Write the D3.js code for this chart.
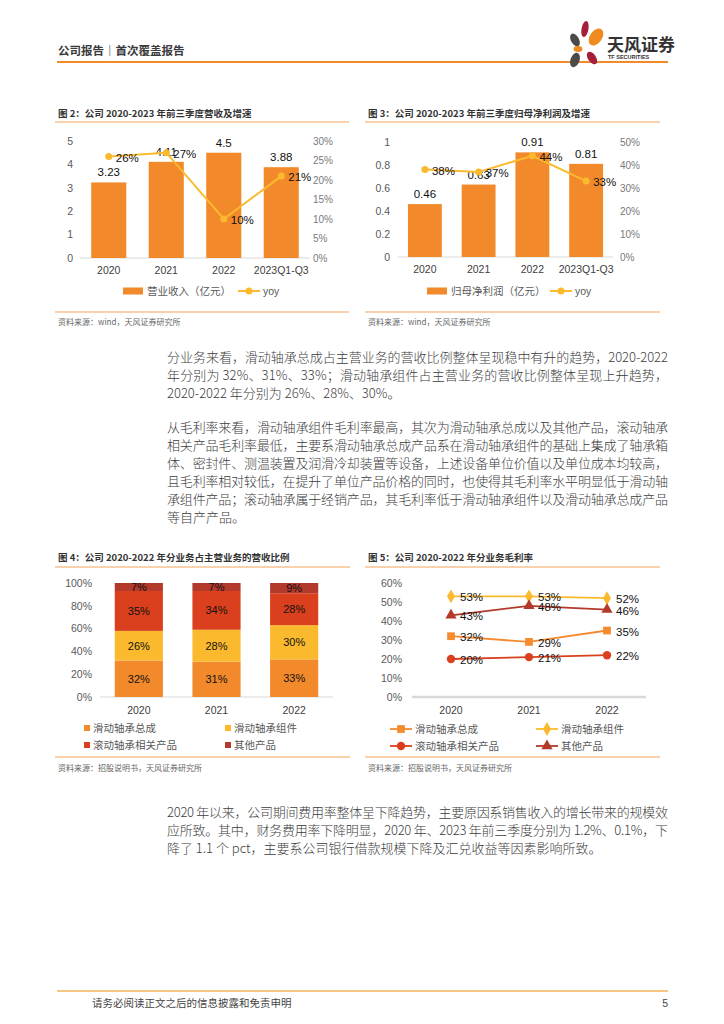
<!DOCTYPE html>
<html><head><meta charset="utf-8">
<script src="https://cdn.jsdelivr.net/npm/d3@7"></script>
<style>body{margin:0;background:#fff}svg{display:block}</style>
</head><body>
<script>
// ---------------- data ----------------
const revCats = ["2020","2021","2022","2023Q1-Q3"];
const revValues = [3.23,4.11,4.5,3.88];
const revYoy = [0.26,0.27,0.10,0.21];
const revTicksL = [0,1,2,3,4,5];
const revTicksR = [0,0.05,0.10,0.15,0.20,0.25,0.30];

const npCats = ["2020","2021","2022","2023Q1-Q3"];
const npValues = [0.46,0.63,0.91,0.81];
const npYoy = [0.38,0.37,0.44,0.33];
const npTicksL = [0,0.2,0.4,0.6,0.8,1];
const npTicksR = [0,0.1,0.2,0.3,0.4,0.5];

const segYears = ["2020","2021","2022"];
const segNames = ["滑动轴承总成","滑动轴承组件","滚动轴承相关产品","其他产品"];
const shareAssembly = [0.32,0.31,0.33];
const shareComponent = [0.26,0.28,0.30];
const shareRolling = [0.35,0.34,0.28];
const shareOther = [0.07,0.07,0.09];
const shareTicks = [0,0.2,0.4,0.6,0.8,1];

const gmAssembly = [0.32,0.29,0.35];
const gmComponent = [0.53,0.53,0.52];
const gmRolling = [0.20,0.21,0.22];
const gmOther = [0.43,0.48,0.46];
const gmTicks = [0,0.1,0.2,0.3,0.4,0.5,0.6];

// ---------------- style ----------------
const CJK = "'Noto Sans CJK SC','Liberation Sans',sans-serif";
const LAT = "'Liberation Sans','Noto Sans CJK SC',sans-serif";
const C_OR = "#F28A2B", C_YE = "#FBBA2E", C_RE = "#DA401E", C_DK = "#B3392B";
const GRAY_T = "#595959", LINE_OR = "#F4A35C";

const svg = d3.select("body").append("svg").attr("width",724).attr("height",1024)
  .style("font-family", CJK);

function txt(x,y,s,o={}){
  const t = svg.append("text").attr("x",x).attr("y",y).text(s)
    .attr("font-size",o.size||10.5).attr("fill",o.fill||"#333")
    .attr("font-family",o.font||CJK);
  if(o.bold) t.attr("font-weight","bold");
  if(o.weight) t.attr("font-weight",o.weight);
  if(o.anchor) t.attr("text-anchor",o.anchor);
  if(o.len) t.attr("textLength",o.len).attr("lengthAdjust","spacing");
  return t;
}
function hline(x1,x2,y,c,w){
  svg.append("line").attr("x1",x1).attr("x2",x2).attr("y1",y).attr("y2",y)
    .attr("stroke",c).attr("stroke-width",w);
}

// ---------------- header ----------------
txt(58,55,"公司报告｜首次覆盖报告",{size:11.5,bold:true,fill:"#3a3a3a"});
hline(57,668,62,C_OR,2);
const logo = svg.append("g");
[[575,40,4,7,-30,"#4a4a4a"],[585,29,3.5,8,10,"#A51E3A"],[596,37,6,9.5,35,"#EE8A1E"],
 [578,49,4.5,3,0,"#EE8A1E"],[575,60,4.5,7.5,20,"#4a4a4a"],[592,58,4,7,-35,"#A51E3A"]]
 .forEach(p=>logo.append("ellipse").attr("cx",p[0]).attr("cy",p[1]).attr("rx",p[2]).attr("ry",p[3])
   .attr("transform",`rotate(${p[4]},${p[0]},${p[1]})`).attr("fill",p[5]));
txt(607,51,"天风证券",{size:17,bold:true,fill:"#333"});
txt(608,59,"TF SECURITIES",{size:5.5,bold:true,fill:"#333",font:LAT});

// ---------------- bar + line charts ----------------
function barLine(c){
  txt(c.tx,117,c.title,{size:9.5,bold:true,fill:"#333"});
  hline(c.lx1,c.lx2,122,LINE_OR,1.2);
  hline(c.lx1,c.lx2,312,LINE_OR,1.2);
  txt(c.tx,325,"资料来源：wind，天风证券研究所",{size:8,fill:"#666"});
  const x = d3.scaleBand().domain(c.cats).range([c.x0,c.x1]).paddingInner(c.pad).paddingOuter(c.pad/2);
  const yL = d3.scaleLinear().domain([0,c.ticksL[c.ticksL.length-1]]).range([c.yb,c.yt]);
  const yR = d3.scaleLinear().domain([0,c.ticksR[c.ticksR.length-1]]).range([c.yb,c.yt]);
  const g = svg.append("g");
  const aL = g.append("g").attr("transform",`translate(${c.axL},0)`)
    .call(d3.axisLeft(yL).tickValues(c.ticksL).tickSize(0).tickPadding(0).tickFormat(c.fmtL));
  aL.select(".domain").remove();
  aL.selectAll("text").attr("font-size",10.5).attr("fill",GRAY_T).attr("font-family",LAT);
  const aR = g.append("g").attr("transform",`translate(${c.axR},0)`)
    .call(d3.axisRight(yR).tickValues(c.ticksR).tickSize(0).tickPadding(0).tickFormat(d3.format(".0%")));
  aR.select(".domain").remove();
  aR.selectAll("text").attr("font-size",10).attr("fill","#7a7a7a").attr("font-family",LAT);
  g.append("line").attr("x1",c.x0).attr("x2",c.x1).attr("y1",c.yb).attr("y2",c.yb).attr("stroke","#D9D9D9");
  g.selectAll(".bar").data(c.vals).join("rect")
    .attr("x",(d,i)=>x(c.cats[i])).attr("width",x.bandwidth())
    .attr("y",d=>yL(d)).attr("height",d=>c.yb-yL(d)).attr("fill",C_OR);
  g.selectAll(".bl").data(c.vals).join("text")
    .attr("x",(d,i)=>x(c.cats[i])+x.bandwidth()/2).attr("y",d=>yL(d)-6)
    .attr("text-anchor","middle").attr("font-size",11.5).attr("fill","#111").attr("font-family",LAT)
    .text(d=>String(d));
  const cx = (d,i)=>x(c.cats[i])+x.bandwidth()/2;
  g.append("path").datum(c.yoy).attr("fill","none").attr("stroke",C_YE).attr("stroke-width",2)
    .attr("d",d3.line().x(cx).y(d=>yR(d)));
  g.selectAll(".pt").data(c.yoy).join("circle").attr("cx",cx).attr("cy",d=>yR(d)).attr("r",3.5).attr("fill",C_YE);
  g.selectAll(".pl").data(c.yoy).join("text")
    .attr("x",(d,i)=>cx(d,i)+7).attr("y",d=>yR(d)+5)
    .attr("font-size",11.5).attr("fill","#111").attr("font-family",LAT)
    .text(d=>d3.format(".0%")(d));
  g.selectAll(".xl").data(c.cats).join("text")
    .attr("x",d=>x(d)+x.bandwidth()/2).attr("y",c.yb+16).attr("text-anchor","middle")
    .attr("font-size",10.5).attr("fill","#404040").attr("font-family",LAT).text(d=>d);
  g.append("rect").attr("x",c.lg1).attr("y",287.5).attr("width",20).attr("height",7).attr("fill",C_OR);
  txt(c.lg1+24,295,c.legend,{size:10.5,fill:GRAY_T});
  hline(c.lg2,c.lg2+22,291,C_YE,2);
  g.append("circle").attr("cx",c.lg2+11).attr("cy",291).attr("r",3.5).attr("fill",C_YE);
  txt(c.lg2+25,295,"yoy",{size:10.5,fill:GRAY_T,font:LAT});
}

barLine({title:"图 2：公司 2020-2023 年前三季度营收及增速",tx:58,lx1:55,lx2:349,
  cats:revCats,vals:revValues,yoy:revYoy,ticksL:revTicksL,ticksR:revTicksR,fmtL:d3.format("d"),
  x0:80,x1:310,pad:0.39,yb:258,yt:141,axL:73,axR:313,legend:"营业收入（亿元）",lg1:123,lg2:238});
barLine({title:"图 3：公司 2020-2023 年前三季度归母净利润及增速",tx:368,lx1:365,lx2:660,
  cats:npCats,vals:npValues,yoy:npYoy,ticksL:npTicksL,ticksR:npTicksR,fmtL:d=>d===0?"0":(d===1?"1":d3.format(".1f")(d)),
  x0:398,x1:613,pad:0.37,yb:257,yt:142,axL:390,axR:620,legend:"归母净利润（亿元）",lg1:427,lg2:550});

// ---------------- body text ----------------
function para(lines,y0,lh){
  lines.forEach((l,i)=>txt(167,y0+i*lh,l[0],{size:13,fill:"#3c3c3c",weight:300,len:l[1]?501:null}));
}
const LH = 18;
para([["分业务来看，滑动轴承总成占主营业务的营收比例整体呈现稳中有升的趋势，2020-2022",1],
      ["年分别为 32%、31%、33%；滑动轴承组件占主营业务的营收比例整体呈现上升趋势，",1],
      ["2020-2022 年分别为 26%、28%、30%。",0]],362,LH);
para([["从毛利率来看，滑动轴承组件毛利率最高，其次为滑动轴承总成以及其他产品，滚动轴承",1],
      ["相关产品毛利率最低，主要系滑动轴承总成产品系在滑动轴承组件的基础上集成了轴承箱",1],
      ["体、密封件、测温装置及润滑冷却装置等设备，上述设备单位价值以及单位成本均较高，",1],
      ["且毛利率相对较低，在提升了单位产品价格的同时，也使得其毛利率水平明显低于滑动轴",1],
      ["承组件产品；滚动轴承属于经销产品，其毛利率低于滑动轴承组件以及滑动轴承总成产品",1],
      ["等自产产品。",0]],432,LH);
para([["2020 年以来，公司期间费用率整体呈下降趋势，主要原因系销售收入的增长带来的规模效",1],
      ["应所致。其中，财务费用率下降明显，2020 年、2023 年前三季度分别为 1.2%、0.1%，下",1],
      ["降了 1.1 个 pct，主要系公司银行借款规模下降及汇兑收益等因素影响所致。",0]],817,LH);

// ---------------- chart 4: stacked share ----------------
(function(){
  txt(58,561,"图 4：公司 2020-2022 年分业务占主营业务的营收比例",{size:9.5,bold:true});
  hline(55,350,567,LINE_OR,1.2); hline(55,350,757,LINE_OR,1.2);
  txt(58,771,"资料来源：招股说明书，天风证券研究所",{size:8,fill:"#666"});
  const series = [shareAssembly,shareComponent,shareRolling,shareOther];
  const colors = [C_OR,C_YE,C_RE,C_DK];
  const x = d3.scaleBand().domain(segYears).range([100,333]).paddingInner(0.38).paddingOuter(0.19);
  const y = d3.scaleLinear().domain([0,1]).range([697,583]);
  const g = svg.append("g");
  const a = g.append("g").attr("transform","translate(92,0)")
    .call(d3.axisLeft(y).tickValues(shareTicks).tickSize(0).tickPadding(0).tickFormat(d3.format(".0%")));
  a.select(".domain").remove();
  a.selectAll("text").attr("font-size",10.5).attr("fill",GRAY_T).attr("font-family",LAT);
  g.append("line").attr("x1",100).attr("x2",333).attr("y1",697).attr("y2",697).attr("stroke","#D9D9D9");
  segYears.forEach((yr,i)=>{
    let cum = 0;
    series.forEach((s,k)=>{
      const v = s[i];
      g.append("rect").attr("x",x(yr)).attr("width",x.bandwidth())
        .attr("y",y(cum+v)).attr("height",y(cum)-y(cum+v)).attr("fill",colors[k]);
      g.append("text").attr("x",x(yr)+x.bandwidth()/2).attr("y",(y(cum)+y(cum+v))/2+4)
        .attr("text-anchor","middle").attr("font-size",11).attr("fill","#111").attr("font-family",LAT)
        .text(d3.format(".0%")(v));
      cum += v;
    });
    g.append("text").attr("x",x(yr)+x.bandwidth()/2).attr("y",714).attr("text-anchor","middle")
      .attr("font-size",10.5).attr("fill","#404040").attr("font-family",LAT).text(yr);
  });
  const lx = [87,228], ly = [728,745];
  segNames.forEach((n,k)=>{
    const cx = lx[k%2], cy = ly[Math.floor(k/2)];
    g.append("rect").attr("x",cx-3).attr("y",cy-3).attr("width",6).attr("height",6).attr("fill",colors[k]);
    txt(cx+6,cy+4,n,{size:10.5,fill:GRAY_T});
  });
})();

// ---------------- chart 5: gross margin lines ----------------
(function(){
  txt(368,561,"图 5：公司 2020-2022 年分业务毛利率",{size:9.5,bold:true});
  hline(365,660,567,LINE_OR,1.2); hline(365,660,757,LINE_OR,1.2);
  txt(368,771,"资料来源：招股说明书，天风证券研究所",{size:8,fill:"#666"});
  const series = [gmAssembly,gmComponent,gmRolling,gmOther];
  const colors = ["#F58B2E",C_YE,C_RE,C_DK];
  const shapes = [d3.symbolSquare,d3.symbolDiamond,d3.symbolCircle,d3.symbolTriangle];
  const sizes = [60,55,55,55];
  const x = d3.scaleBand().domain(segYears).range([412,646]);
  const cx = i=>x(segYears[i])+x.bandwidth()/2;
  const y = d3.scaleLinear().domain([0,0.6]).range([697,583]);
  const g = svg.append("g");
  const a = g.append("g").attr("transform","translate(402,0)")
    .call(d3.axisLeft(y).tickValues(gmTicks).tickSize(0).tickPadding(0).tickFormat(d3.format(".0%")));
  a.select(".domain").remove();
  a.selectAll("text").attr("font-size",10.5).attr("fill",GRAY_T).attr("font-family",LAT);
  g.append("line").attr("x1",412).attr("x2",646).attr("y1",697).attr("y2",697).attr("stroke","#D9D9D9").attr("stroke-width",2.5);
  segYears.forEach(yr=>g.append("text").attr("x",x(yr)+x.bandwidth()/2).attr("y",714).attr("text-anchor","middle")
      .attr("font-size",10.5).attr("fill","#404040").attr("font-family",LAT).text(yr));
  series.forEach((s,k)=>{
    g.append("path").datum(s).attr("fill","none").attr("stroke",colors[k]).attr("stroke-width",1.8)
      .attr("d",d3.line().x((d,i)=>cx(i)).y(d=>y(d)));
    s.forEach((v,i)=>{
      g.append("path").attr("d",d3.symbol().type(shapes[k]).size(sizes[k]))
        .attr("transform",`translate(${cx(i)},${y(v)})`).attr("fill",colors[k]);
      g.append("text").attr("x",cx(i)+9).attr("y",y(v)+5).attr("font-size",11.5).attr("fill","#111")
        .attr("font-family",LAT).text(d3.format(".0%")(v));
    });
  });
  const lx = [390,536], ly = [729,746];
  segNames.forEach((n,k)=>{
    const x0 = lx[k%2], yy = ly[Math.floor(k/2)];
    hline(x0,x0+22,yy,colors[k],1.8);
    g.append("path").attr("d",d3.symbol().type(shapes[k]).size(sizes[k]))
      .attr("transform",`translate(${x0+11},${yy})`).attr("fill",colors[k]);
    txt(x0+25,yy+4,n,{size:10.5,fill:GRAY_T});
  });
})();

// ---------------- footer ----------------
hline(57,668,991,"#F2B35A",1.5);
txt(92,1007,"请务必阅读正文之后的信息披露和免责申明",{size:10.5,fill:"#444"});
txt(668,1007,"5",{size:10.5,fill:"#444",anchor:"end",font:LAT});
</script>
</body></html>
